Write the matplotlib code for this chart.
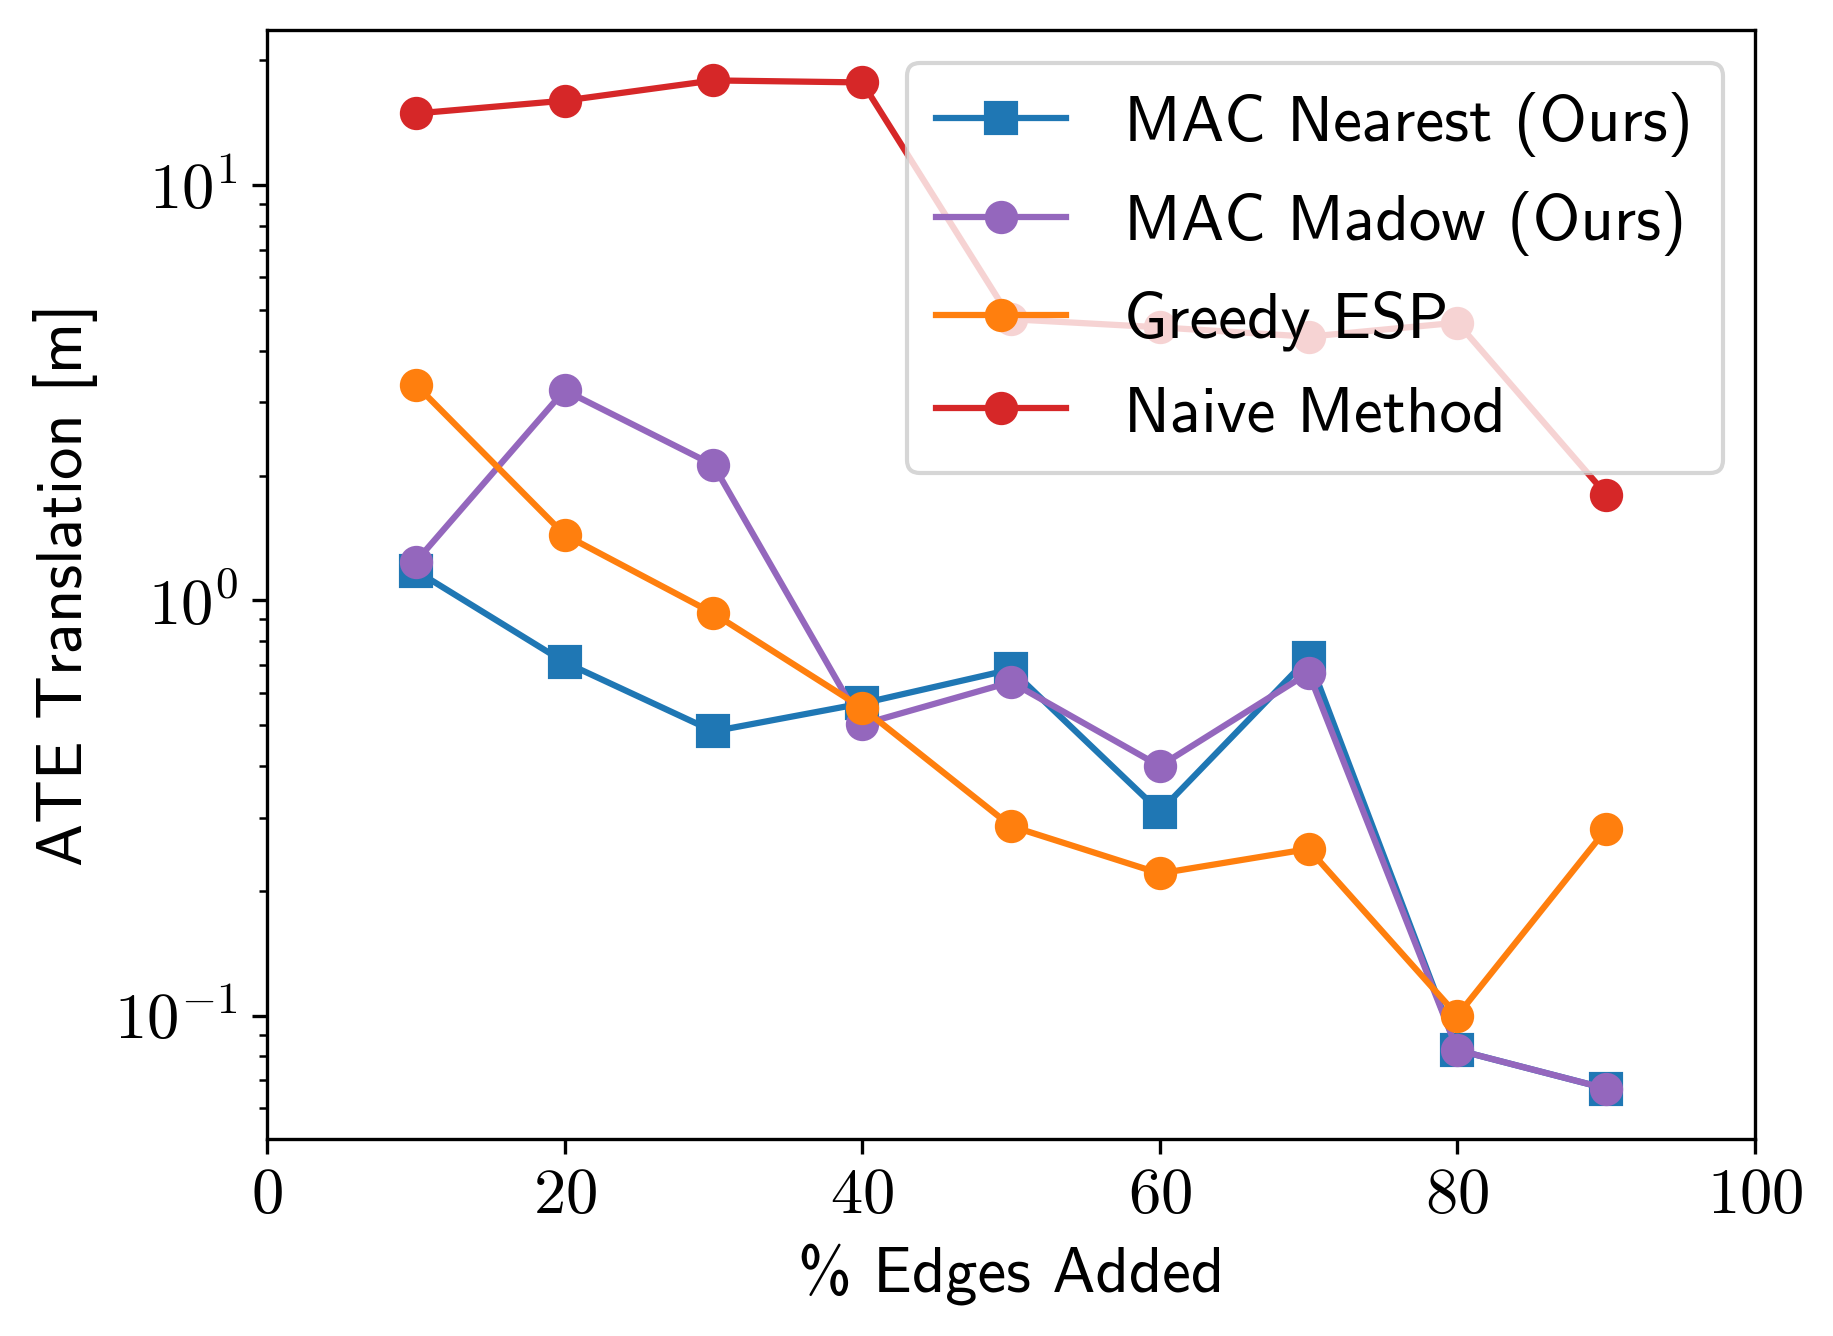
import numpy as np
import matplotlib
matplotlib.use("Agg")
import matplotlib.pyplot as plt

# -------------------------------------------------------------------
# data
edges_pct = [10, 20, 30, 40, 50, 60, 70, 80, 90]

mac_nearest = [1.18, 0.71, 0.484, 0.565, 0.682, 0.31, 0.728, 0.0826, 0.0667]
mac_madow   = [1.24, 3.21, 2.12, 0.503, 0.636, 0.399, 0.669, 0.0826, 0.0667]
greedy_esp  = [3.31, 1.44, 0.931, 0.551, 0.286, 0.22, 0.252, 0.100, 0.281]
naive       = [14.9, 16.0, 17.9, 17.7, 4.76, 4.55, 4.32, 4.67, 1.80]

labels = ["MAC Nearest (Ours)", "MAC Madow (Ours)", "Greedy ESP", "Naive Method"]

# -------------------------------------------------------------------
plt.rcParams["font.family"] = "cmr10"
plt.rcParams["axes.formatter.use_mathtext"] = True
plt.rcParams["mathtext.fontset"] = "cm"
plt.rcParams["font.size"] = 15.5

W, H, DPI = 1833, 1336, 300
fig = plt.figure(figsize=(W / DPI, H / DPI), dpi=DPI)
ax = fig.add_axes([267 / W, (H - 1139) / H, 1488 / W, 1109 / H])

ax.plot(edges_pct, mac_nearest, marker="s", ms=7, color="tab:blue", label=labels[0])
ax.plot(edges_pct, mac_madow, marker="o", ms=7, color="tab:purple", label=labels[1])
ax.plot(edges_pct, greedy_esp, marker="o", ms=7, color="tab:orange", label=labels[2])
ax.plot(edges_pct, naive, marker="o", ms=7, color="tab:red", label=labels[3])

ax.set_yscale("log")
ax.set_xlim(0, 100)

ax.set_xlabel("% Edges Added", family="cmss10", fontsize=15.5)
ax.set_ylabel("ATE Translation [m]", family="cmss10", fontsize=15.5)

ax.legend(loc="upper right", prop={"family": "cmss10", "size": 15.6},
          labelspacing=0.53, borderpad=0.45, handletextpad=0.9)

fig.savefig("out.png", dpi=DPI)
